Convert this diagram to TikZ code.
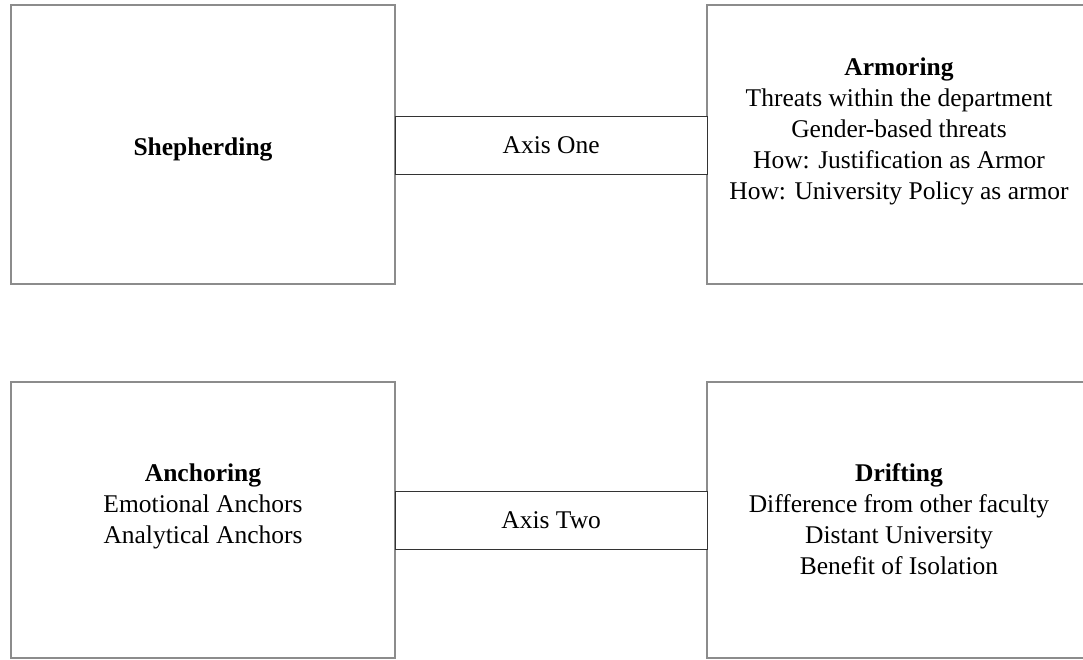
\documentclass[tikz,border=0pt]{standalone}
\usepackage{fontspec}
\setmainfont{Liberation Serif}
\begin{document}
\begin{tikzpicture}[x=1pt,y=-1pt,
  bigbox/.style={draw=black!45,line width=1.6pt,fill=none},
  axisbox/.style={draw=black!80,line width=1.3pt,fill=white,minimum width=312pt,minimum height=58pt,inner sep=0pt,anchor=north west},
  txt/.style={align=center,font=\fontsize{25.5}{31}\selectfont,inner sep=0pt},
]
\useasboundingbox (0,0) rectangle (1083,660);
\clip (0,0) rectangle (1083,660);
\fill[white] (0,0) rectangle (1083,660);
% big boxes
\draw[bigbox] (11,5) rectangle (395,284);
\draw[bigbox] (707,5) rectangle (1091,284);
\draw[bigbox] (11,382) rectangle (395,658);
\draw[bigbox] (707,382) rectangle (1091,658);
% axis boxes
\node[axisbox] (axis1) at (394.5,116) {};
\node[txt] (axis1text) at (axis1.center) {Axis One};
\node[axisbox] (axis2) at (394.5,491) {};
\node[txt] (axis2text) at (axis2.center) {Axis Two};
% texts
\node[txt] (shepherding) at (203,149) {\textbf{Shepherding}};
\node[txt] (armoring) at (899,131) {\textbf{Armoring}\\Threats within the department\\Gender-based threats\\How: Justification as Armor\\How: University Policy as armor};
\node[txt] (anchoring) at (203,506) {\textbf{Anchoring}\\Emotional Anchors\\Analytical Anchors};
\node[txt] (drifting) at (899,519.5) {\textbf{Drifting}\\Difference from other faculty\\Distant University\\Benefit of Isolation};
\end{tikzpicture}
\end{document}
